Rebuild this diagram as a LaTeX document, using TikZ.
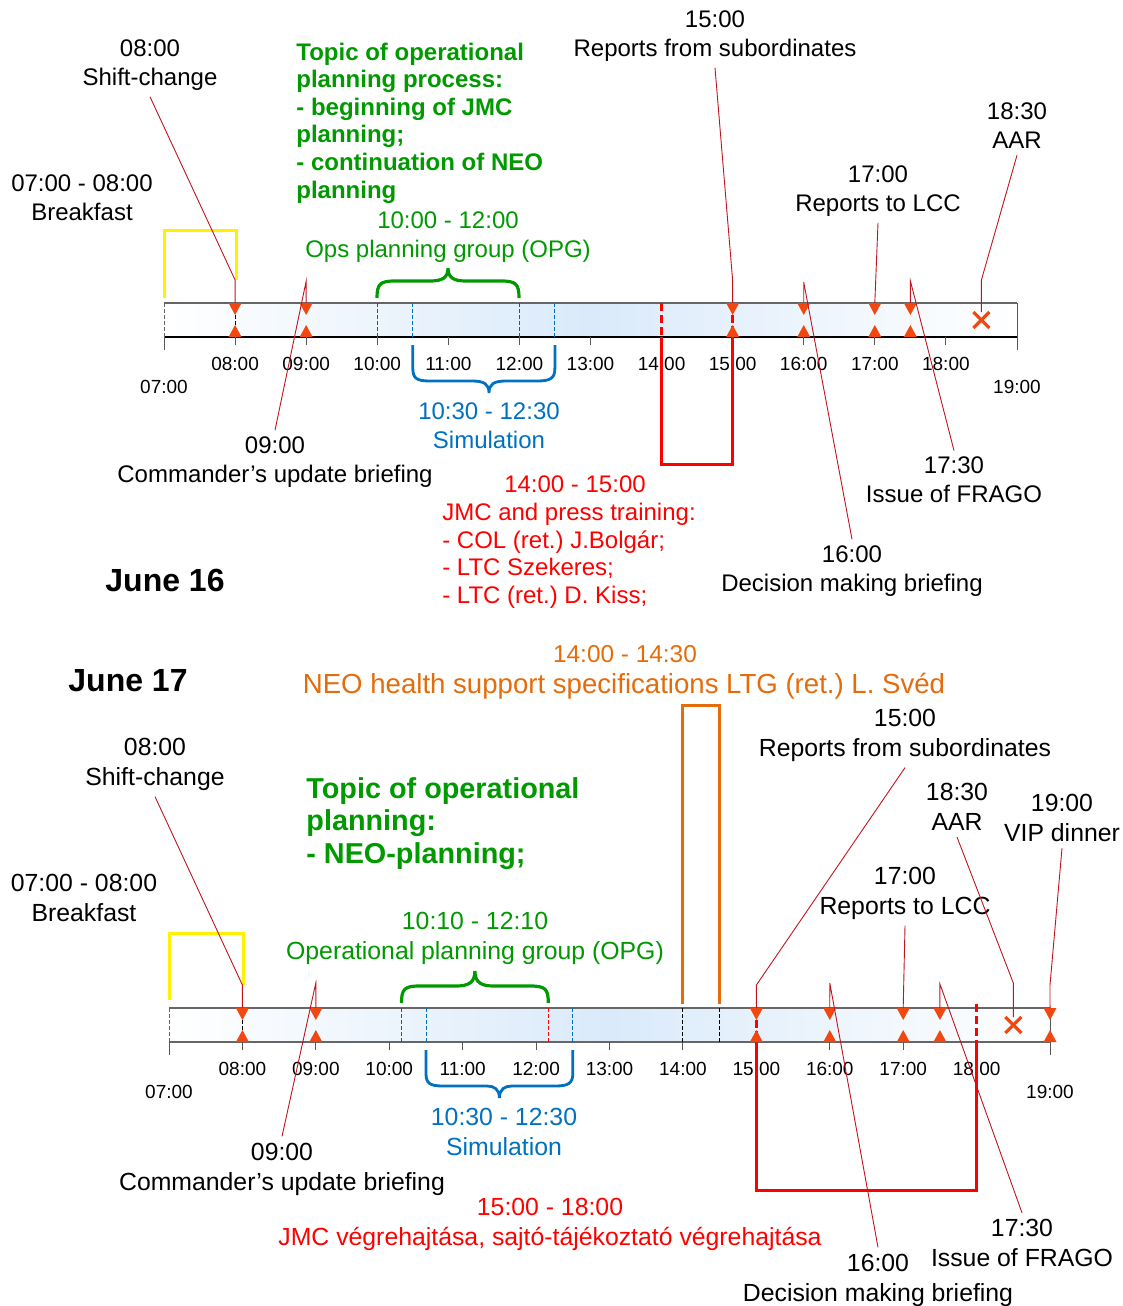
\documentclass[tikz,border=0pt]{standalone}
\usepackage{fontspec}
\setmainfont{Liberation Sans}
\frenchspacing
\usetikzlibrary{positioning}
\definecolor{opggreen}{RGB}{0,153,0}
\definecolor{simblue}{RGB}{0,112,192}
\definecolor{jmcred}{RGB}{255,0,0}
\definecolor{neoorange}{RGB}{228,108,10}
\definecolor{evtorange}{RGB}{240,72,16}
\definecolor{calloutred}{RGB}{192,20,30}
\definecolor{barblue}{RGB}{218,234,250}
\tikzset{
  lbl/.style={align=center, inner sep=3pt, font=\fontsize{12}{14.5}\selectfont}, % labels of June 16
  lbllow/.style={align=center, inner sep=3pt, font=\fontsize{12.4}{15}\selectfont}, % labels of June 17
  hour/.style={inner sep=0pt, font=\fontsize{9.5}{11}\selectfont},
  topic/.style={align=left, inner sep=0pt, text=opggreen, font=\bfseries\fontsize{12}{13.8}\selectfont},
  daytitle/.style={font=\bfseries\fontsize{16}{19}\selectfont},
  callout/.style={draw=calloutred, line width=0.45pt},
  evmark/.style={fill=evtorange},
  xmark/.style={draw=evtorange, line width=1.6pt},
  yelbox/.style={draw=yellow, line width=1.5pt},
  redbox/.style={draw=jmcred, line width=1.5pt},
  orabox/.style={draw=neoorange, line width=1.5pt},
  opgbrace/.style={draw=opggreen, line width=1.6pt},
  simbrace/.style={draw=simblue, line width=1.4pt},
  tick/.style={draw=gray!70!black, line width=0.5pt},
  thindash/.style={line width=0.5pt, dash pattern=on 2pt off 1pt},
  thickdash/.style={draw=jmcred, line width=1.5pt, dash pattern=on 4pt off 2pt},
}

\begin{document}
\begin{tikzpicture}[x=0.5pt, y=-0.5pt]
  \useasboundingbox (0,0) rectangle (1123,1306);

  % ---------- June 16 ----------
  \node[daytitle] (d16) at (165,580) {June 16};
  \node[lbl] (brkA) at (82,198) {07:00 - 08:00\\Breakfast};
  \node[lbl] (shfA) at (150,65) {08:00\\Shift-change};
  \node[topic, anchor=west] (topA) at (296,123) {Topic of operational\\planning process:\\- beginning of JMC\\planning;\\- continuation of NEO\\planning};
  \node[lbl, text=opggreen] (opgA) at (448,237) {10:00 - 12:00\\Ops planning group (OPG)};
  \node[lbl] (repA) at (715,36) {15:00\\Reports from subordinates};
  \node[lbl] (lccA) at (878,191) {17:00\\Reports to LCC};
  \node[lbl] (aarA) at (1017,126) {18:30\\AAR};
  \node[lbl, text=simblue] (simA) at (489,426) {10:30 - 12:30\\Simulation};
  \node[lbl] (cubA) at (275,462) {09:00\\Commander’s update briefing};
  \node[lbl, text=jmcred] (jmcA) at (575,484) {14:00 - 15:00};
  \node[lbl, text=jmcred, align=left, font=\fontsize{12}{13.8}\selectfont, below=-1pt of jmcA, xshift=-3pt] (jmcAl) {JMC and press training:\\- COL (ret.) J.Bolgár;\\- LTC Szekeres;\\- LTC (ret.) D. Kiss;};
  \node[lbl] (frgA) at (954,480) {17:30\\Issue of FRAGO};
  \node[lbl] (dmbA) at (852,571) {16:00\\Decision making briefing};

  % bar
  \shade[left color=white, right color=white, middle color=barblue] (164,303) rectangle (1017,337);
  \draw[gray!80!black, line width=0.6pt] (164,303) -- (1017,303);
  \draw[black, line width=0.6pt] (164,337) -- (1017,337);
  \draw[gray!80!black, thindash] (164,303) -- (164,337);
  \draw[tick] (164,337) -- (164,350);
  \draw[tick] (1017,303) -- (1017,350);
  \foreach \h in {8,...,18}{
    \draw[tick] ({164+71.08*(\h-7)},337) -- ++(0,8);
    \node[hour] (ha\h) at ({164+71.08*(\h-7)},364) {\ifnum\h<10 0\fi\h:00};
  }
  \node[hour] (ha7) at (164,387) {07:00};
  \node[hour] (ha19) at (1017,387) {19:00};

  % spans inside the bar
  \draw[black, thindash] (235.1,315) -- (235.1,325);
  \draw[jmcred, thindash] (377.2,303) -- (377.2,337);
  \draw[jmcred, thindash] (519.4,303) -- (519.4,337);
  \draw[simblue, thindash] (412.8,303) -- (412.8,337);
  \draw[simblue, thindash] (554.9,303) -- (554.9,337);
  \draw[thickdash] (661.6,303) -- (661.6,337);
  \draw[thickdash] (732.6,315) -- (732.6,325);
  \draw[redbox] (661.6,337) -- (661.6,464) -- (732.6,464) -- (732.6,326);
  \draw[yelbox] (164,298) -- (164,230) -- (236,230) -- (236,280);

  % braces
  \draw[opgbrace] (377,298) .. controls (377,284) and (380,281) .. (395,281) -- (430,281)
    .. controls (442,281) and (448,278) .. (448,268) .. controls (448,278) and (454,281) .. (466,281)
    -- (501,281) .. controls (516,281) and (519,284) .. (519,298);
  \draw[simbrace] (412.8,345) -- (412.8,368) .. controls (412.8,378) and (416,381) .. (430,381) -- (472,381)
    .. controls (484,381) and (489,384) .. (489,393) .. controls (489,384) and (494,381) .. (506,381)
    -- (537,381) .. controls (551,381) and (554.9,378) .. (554.9,368) -- (554.9,345);

  % event markers
  \foreach \t/\n in {8/08,9/09,15/15,16/16,17/17,17.5/1730}{
    \coordinate (a\n) at ({164+71.08*(\t-7)},303);
    \fill[evmark] ({164+71.08*(\t-7)-6.5},303) -- ++(13,0) -- ++(-6.5,12) -- cycle;
    \fill[evmark] ({164+71.08*(\t-7)-6.5},337) -- ++(13,0) -- ++(-6.5,-12) -- cycle;
  }
  \coordinate (aX) at (981.4,312);
  \draw[xmark] (973.4,312) -- (989.4,328) (973.4,328) -- (989.4,312);

  % callouts
  \coordinate (a08k) at (235.1,280);
  \coordinate (a09k) at (306.2,281);
  \coordinate (a15k) at (732.6,280);
  \coordinate (a16k) at (803.7,282);
  \coordinate (a1730k) at (910.4,281);
  \coordinate (aXk) at (981.4,280);
  \draw[callout] (shfA.south) -- (a08k) -- (a08);
  \draw[callout] (cubA.north) -- (a09k) -- (a09);
  \draw[callout] (repA.south) -- (a15k) -- (a15);
  \draw[callout] (dmbA.north) -- (a16k) -- (a16);
  \draw[callout] (lccA.south) -- (a17);
  \draw[callout] (frgA.north) -- (a1730k) -- (a1730);
  \draw[callout] (aarA.south) -- (aXk) -- (aX);

  % ---------- June 17 ----------
  \node[daytitle] (d17) at (128,681) {June 17};
  \node[lbllow, text=neoorange, font=\fontsize{12.2}{15}\selectfont] (neoT) at (625,654) {14:00 - 14:30};
  \node[lbllow, text=neoorange, font=\fontsize{13.8}{16}\selectfont] (neoB) at (624,686) {NEO health support specifications LTG (ret.) L. Svéd};
  \node[lbllow] (repB) at (905,735) {15:00\\Reports from subordinates};
  \node[lbllow] (shfB) at (155,764) {08:00\\Shift-change};
  \node[topic, anchor=west, font=\bfseries\fontsize{14.4}{16.3}\selectfont] (topB) at (306,823.5) {Topic of operational\\planning:\\- NEO-planning;};
  \node[lbllow] (aarB) at (957,807) {18:30\\AAR};
  \node[lbllow] (vipB) at (1062,818) {19:00\\VIP dinner};
  \node[lbllow] (lccB) at (905,893) {17:00\\Reports to LCC};
  \node[lbllow] (brkB) at (84,898) {07:00 - 08:00\\Breakfast};
  \node[lbllow, text=opggreen] (opgB) at (475,938) {10:10 - 12:10\\Operational planning group (OPG)};
  \node[lbllow, text=simblue] (simB) at (504,1132) {10:30 - 12:30\\Simulation};
  \node[lbllow] (cubB) at (282,1169) {09:00\\Commander’s update briefing};
  \node[lbllow, text=jmcred] (jmcB) at (550,1224) {15:00 - 18:00\\JMC végrehajtása, sajtó-tájékoztató végrehajtása};
  \node[lbllow] (frgB) at (1022,1243) {17:30\\Issue of FRAGO};
  \node[lbllow] (dmbB) at (878,1280) {16:00\\Decision making briefing};

  % bar
  \shade[left color=white, right color=white, middle color=barblue] (169,1008) rectangle (1050,1042);
  \draw[gray!80!black, line width=0.6pt] (169,1008) -- (1050,1008);
  \draw[gray!80!black, line width=0.6pt] (169,1042) -- (1050,1042);
  \draw[gray!80!black, thindash] (169,1008) -- (169,1042);
  \draw[tick] (169,1042) -- (169,1055);
  \draw[tick] (1050,1008) -- (1050,1055);
  \foreach \h in {8,...,18}{
    \draw[tick] ({169+73.42*(\h-7)},1042) -- ++(0,8);
    \node[hour] (hb\h) at ({169+73.42*(\h-7)},1069) {\ifnum\h<10 0\fi\h:00};
  }
  \node[hour] (hb7) at (169,1092) {07:00};
  \node[hour] (hb19) at (1050,1092) {19:00};

  % spans inside the bar
  \draw[black, thindash] (242.4,1020) -- (242.4,1030);
  \draw[black, thindash] (682.9,1008) -- (682.9,1042);
  \draw[black, thindash] (719.6,1008) -- (719.6,1042);
  \draw[jmcred, thindash] (401.5,1008) -- (401.5,1042);
  \draw[jmcred, thindash] (548.3,1008) -- (548.3,1042);
  \draw[simblue, thindash] (426,1008) -- (426,1042);
  \draw[simblue, thindash] (572.8,1008) -- (572.8,1042);
  \draw[thickdash] (756.4,1020) -- (756.4,1030);
  \draw[thickdash] (976.6,1004) -- (976.6,1042);
  \draw[redbox] (756.4,1031) -- (756.4,1190) -- (976.6,1190) -- (976.6,1042);
  \draw[orabox] (682.9,1004) -- (682.9,705) -- (719.6,705) -- (719.6,1004);
  \draw[yelbox] (169,1000) -- (169,933) -- (243,933) -- (243,985);

  % braces
  \draw[opgbrace] (401.5,1003) .. controls (401.5,989) and (404.5,986) .. (419.5,986) -- (456,986)
    .. controls (468,986) and (474.9,983) .. (474.9,971) .. controls (474.9,983) and (481.8,986) .. (493.8,986)
    -- (530.3,986) .. controls (545.3,986) and (548.3,989) .. (548.3,1003);
  \draw[simbrace] (426,1050) -- (426,1073) .. controls (426,1083) and (429,1086) .. (443,1086) -- (487,1086)
    .. controls (494,1086) and (499.4,1089) .. (499.4,1098) .. controls (499.4,1089) and (505,1086) .. (512,1086)
    -- (555,1086) .. controls (569,1086) and (572.8,1083) .. (572.8,1073) -- (572.8,1050);

  % event markers
  \foreach \t/\n in {8/08,9/09,15/15,16/16,17/17,17.5/1730,19/19}{
    \coordinate (b\n) at ({169+73.42*(\t-7)},1008);
    \fill[evmark] ({169+73.42*(\t-7)-6.5},1008) -- ++(13,0) -- ++(-6.5,12) -- cycle;
    \fill[evmark] ({169+73.42*(\t-7)-6.5},1042) -- ++(13,0) -- ++(-6.5,-12) -- cycle;
  }
  \coordinate (bX) at (1013.3,1017);
  \draw[xmark] (1005.3,1017) -- (1021.3,1033) (1005.3,1033) -- (1021.3,1017);

  % callouts
  \coordinate (b08k) at (242.4,985);
  \coordinate (b09k) at (315.8,983);
  \coordinate (b15k) at (756.4,985);
  \coordinate (b16k) at (829.8,983);
  \coordinate (b1730k) at (939.9,984);
  \coordinate (bXk) at (1013.3,983);
  \coordinate (b19k) at (1050,985);
  \draw[callout] (shfB.south) -- (b08k) -- (b08);
  \draw[callout] (cubB.north) -- (b09k) -- (b09);
  \draw[callout] (repB.south) -- (b15k) -- (b15);
  \draw[callout] (dmbB.north) -- (b16k) -- (b16);
  \draw[callout] (lccB.south) -- (b17);
  \draw[callout] (frgB.north) -- (b1730k) -- (b1730);
  \draw[callout] (aarB.south) -- (bXk) -- (bX);
  \draw[callout] (vipB.south) -- (b19k) -- (b19);
\end{tikzpicture}
\end{document}
